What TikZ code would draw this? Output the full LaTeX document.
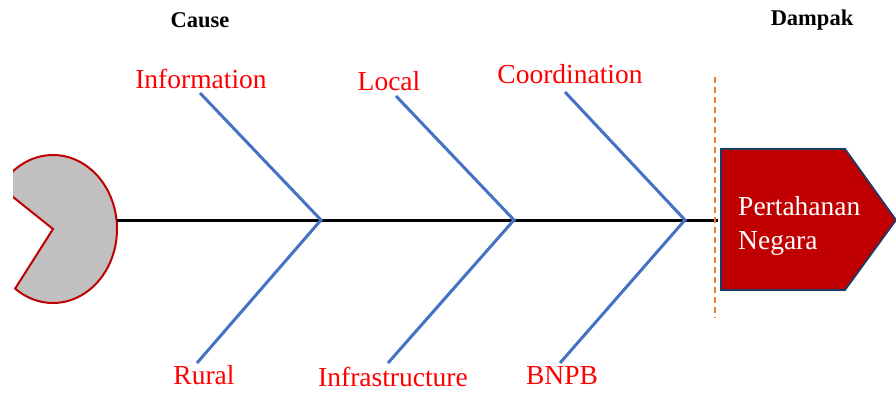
\documentclass[tikz,border=0pt]{standalone}
\usepackage{fontspec}
\setmainfont{Liberation Serif}
\usetikzlibrary{calc}
\definecolor{bone}{HTML}{4472C4}
\definecolor{lab}{HTML}{FF0000}
\definecolor{darkred}{HTML}{C00000}
\definecolor{navy}{HTML}{203864}
\definecolor{dashor}{HTML}{ED7D31}
\tikzset{
  bonestyle/.style={draw=bone, line width=3pt},
  labelstyle/.style={text=lab, font=\fontsize{27.5}{32}\selectfont, inner sep=0pt},
  headstyle/.style={font=\bfseries\fontsize{22.5}{26}\selectfont, inner sep=0pt},
}
\begin{document}
\begin{tikzpicture}[x=1pt,y=1pt]
\useasboundingbox (0,0) rectangle (896,392);
% fish head (pac-man)
\begin{scope}
\clip (13,0) rectangle (896,392);
\coordinate (hc) at (53,163);
\draw[fill={rgb,255:red,192;green,192;blue,192}, draw=darkred, line width=2pt]
  (hc) -- ($(hc)+(145.3:64 and 74)$) arc[start angle=145.3, end angle=-126.3, x radius=64, y radius=74] -- cycle;
\end{scope}
\coordinate (spineL) at (117,172);
\coordinate (spineR) at (718,172);
\draw[line width=3pt] (spineL) -- (spineR);
% dashed separator
\coordinate (dtop) at (715,315);
\coordinate (dbot) at (715,74);
\draw[dashor, line width=1.2pt, dash pattern=on 6pt off 4pt] (dtop) -- (dbot);
% junctions
\coordinate (j1) at (321,172);
\coordinate (j2) at (514,172);
\coordinate (j3) at (685,172);
\coordinate (u1) at (200,299);
\coordinate (u2) at (396,296);
\coordinate (u3) at (565,300);
\coordinate (l1) at (197,29);
\coordinate (l2) at (388,29);
\coordinate (l3) at (560,29);
\draw[bonestyle] (u1) -- (j1) -- (l1);
\draw[bonestyle] (u2) -- (j2) -- (l2);
\draw[bonestyle] (u3) -- (j3) -- (l3);
% labels
\node[labelstyle] (tInfo) at (201,313) {Information};
\node[labelstyle] (tLocal) at (389,311) {Local};
\node[labelstyle] (tCoord) at (570,318) {Coordination};
\node[labelstyle] (tRural) at (204,17) {Rural};
\node[labelstyle] (tInfra) at (393,15) {Infrastructure};
\node[labelstyle] (tBNPB) at (562,16) {BNPB};
\node[headstyle] (tCause) at (200,372) {Cause};
\node[headstyle] (tDampak) at (812,372) {Dampak};
% effect box
\draw[fill=darkred, draw=navy, line width=1.8pt] (721,243) coordinate (bTL) -- (845,243) -- (896,172) coordinate (bTip) -- (845,102) -- (721,102) -- cycle;
\node[text=white, font=\fontsize{27.5}{34}\selectfont, align=left, anchor=west, inner sep=0pt] (tEff) at (738,166) {Pertahanan\\Negara};
\end{tikzpicture}
\end{document}
